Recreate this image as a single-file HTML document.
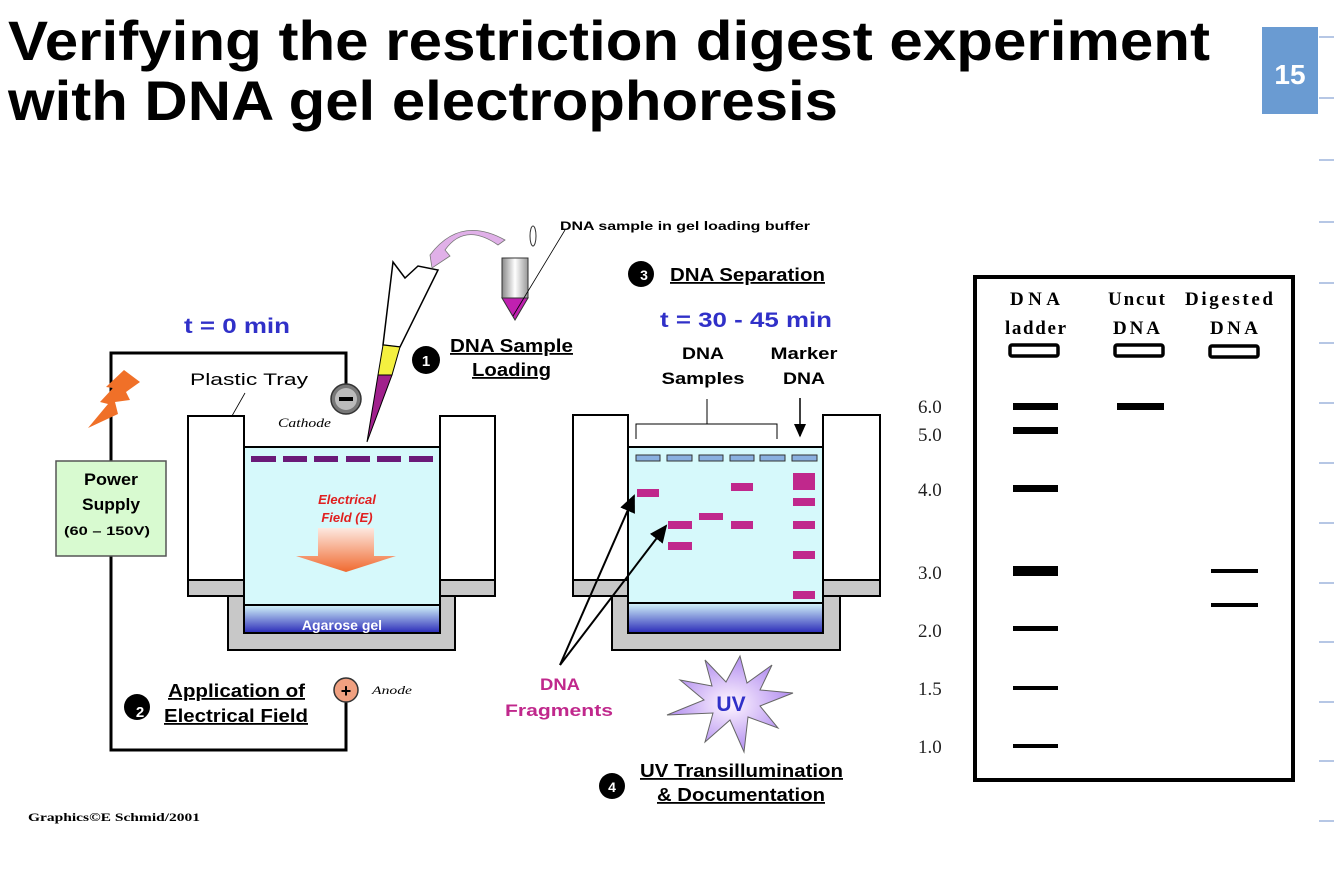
<!DOCTYPE html>
<html><head><meta charset="utf-8"><style>
html,body{margin:0;padding:0;background:#fff;width:1334px;height:891px;overflow:hidden}
svg{display:block}
</style></head><body>
<svg width="1334" height="891" viewBox="0 0 1334 891" xmlns="http://www.w3.org/2000/svg" font-family="Liberation Sans, sans-serif">
<defs>
<linearGradient id="ag" x1="0" y1="0" x2="0" y2="1"><stop offset="0" stop-color="#d4f6fa"/><stop offset="1" stop-color="#2a2ab8"/></linearGradient>
<linearGradient id="ar" x1="0" y1="0" x2="0" y2="1"><stop offset="0" stop-color="#fde8e0"/><stop offset="1" stop-color="#f06a30"/></linearGradient>
<linearGradient id="tube" x1="0" y1="0" x2="1" y2="0"><stop offset="0" stop-color="#888"/><stop offset="0.5" stop-color="#fff"/><stop offset="1" stop-color="#999"/></linearGradient>
<radialGradient id="uv"><stop offset="0" stop-color="#fff6ff"/><stop offset="1" stop-color="#b28ef0"/></radialGradient>
<marker id="ah" markerWidth="10" markerHeight="10" refX="8" refY="5" orient="auto"><path d="M0,1 L9,5 L0,9 Z" fill="#000"/></marker>
</defs>
<!-- Title -->
<text x="8" y="60" font-size="56" font-weight="bold" textLength="1202" lengthAdjust="spacingAndGlyphs">Verifying the restriction digest experiment</text>
<text x="8" y="120" font-size="56" font-weight="bold" textLength="830" lengthAdjust="spacingAndGlyphs">with DNA gel electrophoresis</text>
<rect x="1262" y="27" width="56" height="87" fill="#6a9bd2"/>
<text x="1290" y="84" font-size="28" font-weight="bold" fill="#fff" text-anchor="middle">15</text>
<g stroke="#9db4dc" stroke-width="1.5">
<line x1="1319" y1="37" x2="1334" y2="37"/><line x1="1319" y1="98" x2="1334" y2="98"/><line x1="1319" y1="160" x2="1334" y2="160"/><line x1="1319" y1="222" x2="1334" y2="222"/><line x1="1319" y1="283" x2="1334" y2="283"/><line x1="1319" y1="343" x2="1334" y2="343"/><line x1="1319" y1="403" x2="1334" y2="403"/><line x1="1319" y1="463" x2="1334" y2="463"/><line x1="1319" y1="523" x2="1334" y2="523"/><line x1="1319" y1="583" x2="1334" y2="583"/><line x1="1319" y1="642" x2="1334" y2="642"/><line x1="1319" y1="702" x2="1334" y2="702"/><line x1="1319" y1="761" x2="1334" y2="761"/><line x1="1319" y1="821" x2="1334" y2="821"/>
</g>

<!-- Left wiring -->
<polyline points="346,392 346,353 111,353 111,750 346,750 346,700" fill="none" stroke="#000" stroke-width="3"/>
<polygon points="124,370 140,382 126,392 130,400 115,402 118,414 88,428 108,404 100,402 113,388 106,387" fill="#f07028"/>
<rect x="56" y="461" width="110" height="95" fill="#d8fad0" stroke="#555" stroke-width="1.5"/>
<text x="111" y="485" font-size="17" font-weight="bold" text-anchor="middle" textLength="54" lengthAdjust="spacingAndGlyphs">Power</text>
<text x="111" y="510" font-size="17" font-weight="bold" text-anchor="middle" textLength="58" lengthAdjust="spacingAndGlyphs">Supply</text>
<text x="107" y="535" font-size="12" font-weight="bold" text-anchor="middle" textLength="86" lengthAdjust="spacingAndGlyphs">(60 – 150V)</text>
<text x="184" y="333" font-size="21" font-weight="bold" fill="#3030c8" textLength="106" lengthAdjust="spacingAndGlyphs">t = 0 min</text>
<text x="190" y="385" font-size="17" textLength="118" lengthAdjust="spacingAndGlyphs">Plastic Tray</text>
<line x1="220" y1="437" x2="245" y2="393" stroke="#000" stroke-width="0.8"/>
<circle cx="346" cy="399" r="15" fill="#777" stroke="#333" stroke-width="1.5"/>
<circle cx="346" cy="399" r="11" fill="#bbb"/>
<rect x="339" y="397" width="14" height="4" fill="#000"/>
<text x="278" y="427" font-size="13" font-style="italic" font-family="Liberation Serif, serif" textLength="53" lengthAdjust="spacingAndGlyphs">Cathode</text>

<!-- left tray -->
<path d="M228,580 L228,650 L455,650 L455,580 Z" fill="#c8c8c8" stroke="#000" stroke-width="2"/>
<rect x="188" y="580" width="307" height="16" fill="#c8c8c8" stroke="#000" stroke-width="2"/>
<rect x="188" y="416" width="56" height="164" fill="#fff" stroke="#000" stroke-width="2"/>
<rect x="440" y="416" width="55" height="164" fill="#fff" stroke="#000" stroke-width="2"/>
<rect x="244" y="447" width="196" height="158" fill="#d6f9fb" stroke="#000" stroke-width="2"/>
<rect x="244" y="605" width="196" height="28" fill="url(#ag)" stroke="#000" stroke-width="2"/>
<text x="342" y="630" font-size="14" font-weight="bold" fill="#fff" text-anchor="middle">Agarose gel</text>
<g fill="#6b1a78"><rect x="251" y="456" width="25" height="6"/><rect x="283" y="456" width="24" height="6"/><rect x="314" y="456" width="24" height="6"/><rect x="346" y="456" width="24" height="6"/><rect x="377" y="456" width="24" height="6"/><rect x="409" y="456" width="24" height="6"/></g>
<text x="347" y="504" font-size="13" font-weight="bold" font-style="italic" fill="#e02020" text-anchor="middle">Electrical</text>
<text x="347" y="522" font-size="13" font-weight="bold" font-style="italic" fill="#e02020" text-anchor="middle">Field (E)</text>
<polygon points="318,528 374,528 374,556 396,556 346,572 296,556 318,556" fill="url(#ar)"/>

<!-- pipette -->
<polygon points="393,262 405,278 418,266 438,270 400,347 383,345" fill="#fff" stroke="#000" stroke-width="1.5"/>
<polygon points="383,345 400,347 392,375 378,375" fill="#f4f040" stroke="#000" stroke-width="1"/>
<polygon points="378,375 392,375 367,442" fill="#a0208c" stroke="#000" stroke-width="1"/>
<path d="M430,255 Q460,215 505,240 L498,245 Q465,222 445,250 L450,256 L432,268 Z" fill="#e0b0e8" stroke="#777" stroke-width="0.8"/>
<rect x="502" y="258" width="26" height="40" fill="url(#tube)" stroke="#333"/>
<polygon points="502,298 528,298 515,320" fill="#c020b0" stroke="#333"/>
<ellipse cx="533" cy="236" rx="3" ry="10" fill="#fff" stroke="#333"/>
<line x1="513" y1="316" x2="565" y2="230" stroke="#000" stroke-width="0.8"/>
<text x="560" y="230" font-size="12" font-weight="bold" textLength="250" lengthAdjust="spacingAndGlyphs">DNA sample in gel loading buffer</text>
<circle cx="426" cy="360" r="14" fill="#000"/><text x="426" y="366" font-size="15" font-weight="bold" fill="#fff" text-anchor="middle">1</text>
<text x="450" y="352" font-size="18" font-weight="bold" text-decoration="underline" textLength="123" lengthAdjust="spacingAndGlyphs">DNA Sample</text>
<text x="472" y="376" font-size="18" font-weight="bold" text-decoration="underline" textLength="79" lengthAdjust="spacingAndGlyphs">Loading</text>

<!-- anode / step2 -->
<circle cx="346" cy="690" r="12" fill="#f0a080" stroke="#333" stroke-width="1.5"/>
<text x="346" y="697" font-size="18" font-weight="bold" text-anchor="middle">+</text>
<text x="372" y="694" font-size="12" font-style="italic" font-family="Liberation Serif, serif" textLength="40" lengthAdjust="spacingAndGlyphs">Anode</text>
<circle cx="137" cy="707" r="13" fill="#000"/><text x="140" y="717" font-size="15" font-weight="bold" fill="#fff" text-anchor="middle">2</text>
<text x="168" y="697" font-size="18" font-weight="bold" text-decoration="underline" textLength="137" lengthAdjust="spacingAndGlyphs">Application of</text>
<text x="164" y="722" font-size="18" font-weight="bold" text-decoration="underline" textLength="144" lengthAdjust="spacingAndGlyphs">Electrical Field</text>
<text x="28" y="821" font-size="12" font-weight="bold" font-family="Liberation Serif, serif" textLength="172" lengthAdjust="spacingAndGlyphs">Graphics©E Schmid/2001</text>

<!-- middle -->
<circle cx="641" cy="274" r="13" fill="#000"/><text x="644" y="280" font-size="14" font-weight="bold" fill="#fff" text-anchor="middle">3</text>
<text x="670" y="281" font-size="18" font-weight="bold" text-decoration="underline" textLength="155" lengthAdjust="spacingAndGlyphs">DNA Separation</text>
<text x="660" y="327" font-size="21" font-weight="bold" fill="#3030c8" textLength="172" lengthAdjust="spacingAndGlyphs">t = 30 - 45 min</text>
<text x="703" y="359" font-size="17" font-weight="bold" text-anchor="middle" textLength="42" lengthAdjust="spacingAndGlyphs">DNA</text>
<text x="703" y="384" font-size="17" font-weight="bold" text-anchor="middle" textLength="83" lengthAdjust="spacingAndGlyphs">Samples</text>
<text x="804" y="359" font-size="17" font-weight="bold" text-anchor="middle" textLength="67" lengthAdjust="spacingAndGlyphs">Marker</text>
<text x="804" y="384" font-size="17" font-weight="bold" text-anchor="middle" textLength="42" lengthAdjust="spacingAndGlyphs">DNA</text>
<polyline points="636,439 636,424 777,424 777,439" fill="none" stroke="#000" stroke-width="1"/>
<line x1="707" y1="399" x2="707" y2="424" stroke="#000" stroke-width="1"/>
<line x1="800" y1="398" x2="800" y2="436" stroke="#000" stroke-width="1.5" marker-end="url(#ah)"/>
<path d="M612,580 L612,650 L840,650 L840,580 Z" fill="#c8c8c8" stroke="#000" stroke-width="2"/>
<rect x="573" y="580" width="307" height="16" fill="#c8c8c8" stroke="#000" stroke-width="2"/>
<rect x="573" y="415" width="55" height="165" fill="#fff" stroke="#000" stroke-width="2"/>
<rect x="823" y="415" width="57" height="165" fill="#fff" stroke="#000" stroke-width="2"/>
<rect x="628" y="447" width="195" height="156" fill="#d6f9fb" stroke="#000" stroke-width="2"/>
<rect x="628" y="603" width="195" height="30" fill="url(#ag)" stroke="#000" stroke-width="2"/>
<g fill="#8ab0e0" stroke="#333" stroke-width="1"><rect x="636" y="455" width="24" height="6"/><rect x="667" y="455" width="25" height="6"/><rect x="699" y="455" width="24" height="6"/><rect x="730" y="455" width="24" height="6"/><rect x="760" y="455" width="25" height="6"/><rect x="792" y="455" width="25" height="6"/></g>
<g fill="#c0288c"><rect x="637" y="489" width="22" height="8"/><rect x="668" y="521" width="24" height="8"/><rect x="668" y="542" width="24" height="8"/><rect x="699" y="513" width="24" height="7"/><rect x="731" y="483" width="22" height="8"/><rect x="731" y="521" width="22" height="8"/><rect x="793" y="473" width="22" height="17"/><rect x="793" y="498" width="22" height="8"/><rect x="793" y="521" width="22" height="8"/><rect x="793" y="551" width="22" height="8"/><rect x="793" y="591" width="22" height="8"/></g>
<line x1="560" y1="665" x2="634" y2="496" stroke="#000" stroke-width="2" marker-end="url(#ah)"/>
<line x1="560" y1="665" x2="666" y2="526" stroke="#000" stroke-width="2" marker-end="url(#ah)"/>
<text x="560" y="690" font-size="17" font-weight="bold" fill="#c0288c" text-anchor="middle" textLength="40" lengthAdjust="spacingAndGlyphs">DNA</text>
<text x="559" y="716" font-size="17" font-weight="bold" fill="#c0288c" text-anchor="middle" textLength="108" lengthAdjust="spacingAndGlyphs">Fragments</text>
<polygon points="740,656 747,683 772,665 760,690 793,693 760,706 778,728 748,717 744,752 730,720 705,742 713,713 667,715 704,700 680,680 712,686 705,660 726,682" fill="url(#uv)" stroke="#666" stroke-width="1"/>
<text x="731" y="711" font-size="21" font-weight="bold" fill="#3030c8" text-anchor="middle">UV</text>
<circle cx="612" cy="786" r="13" fill="#000"/><text x="612" y="792" font-size="14" font-weight="bold" fill="#fff" text-anchor="middle">4</text>
<text x="640" y="777" font-size="18" font-weight="bold" text-decoration="underline" textLength="203" lengthAdjust="spacingAndGlyphs">UV Transillumination</text>
<text x="657" y="801" font-size="18" font-weight="bold" text-decoration="underline" textLength="168" lengthAdjust="spacingAndGlyphs">&amp; Documentation</text>

<!-- right gel -->
<rect x="975" y="277" width="318" height="503" fill="#fff" stroke="#000" stroke-width="4"/>
<g font-family="Liberation Serif, serif" font-size="19" font-weight="bold" lengthAdjust="spacingAndGlyphs">
<text x="1010" y="305" textLength="50">DNA</text><text x="1005" y="334" textLength="61">ladder</text>
<text x="1108" y="305" textLength="57">Uncut</text><text x="1113" y="334" textLength="47">DNA</text>
<text x="1185" y="305" textLength="88">Digested</text><text x="1210" y="334" textLength="48">DNA</text>
</g>
<g fill="none" stroke="#000" stroke-width="3.5"><rect x="1010" y="345" width="48" height="11" rx="2"/><rect x="1115" y="345" width="48" height="11" rx="2"/><rect x="1210" y="346" width="48" height="11" rx="2"/></g>
<g fill="#000"><rect x="1013" y="403" width="45" height="7"/><rect x="1013" y="427" width="45" height="7"/><rect x="1013" y="485" width="45" height="7"/><rect x="1013" y="566" width="45" height="10"/><rect x="1013" y="626" width="45" height="5"/><rect x="1013" y="686" width="45" height="4"/><rect x="1013" y="744" width="45" height="4"/><rect x="1117" y="403" width="47" height="7"/><rect x="1211" y="569" width="47" height="4"/><rect x="1211" y="603" width="47" height="4"/></g>
<g font-family="Liberation Serif, serif" font-size="19" fill="#222"><text x="918" y="413">6.0</text><text x="918" y="441">5.0</text><text x="918" y="496">4.0</text><text x="918" y="579">3.0</text><text x="918" y="637">2.0</text><text x="918" y="695">1.5</text><text x="918" y="753">1.0</text></g>
</svg>
</body></html>
